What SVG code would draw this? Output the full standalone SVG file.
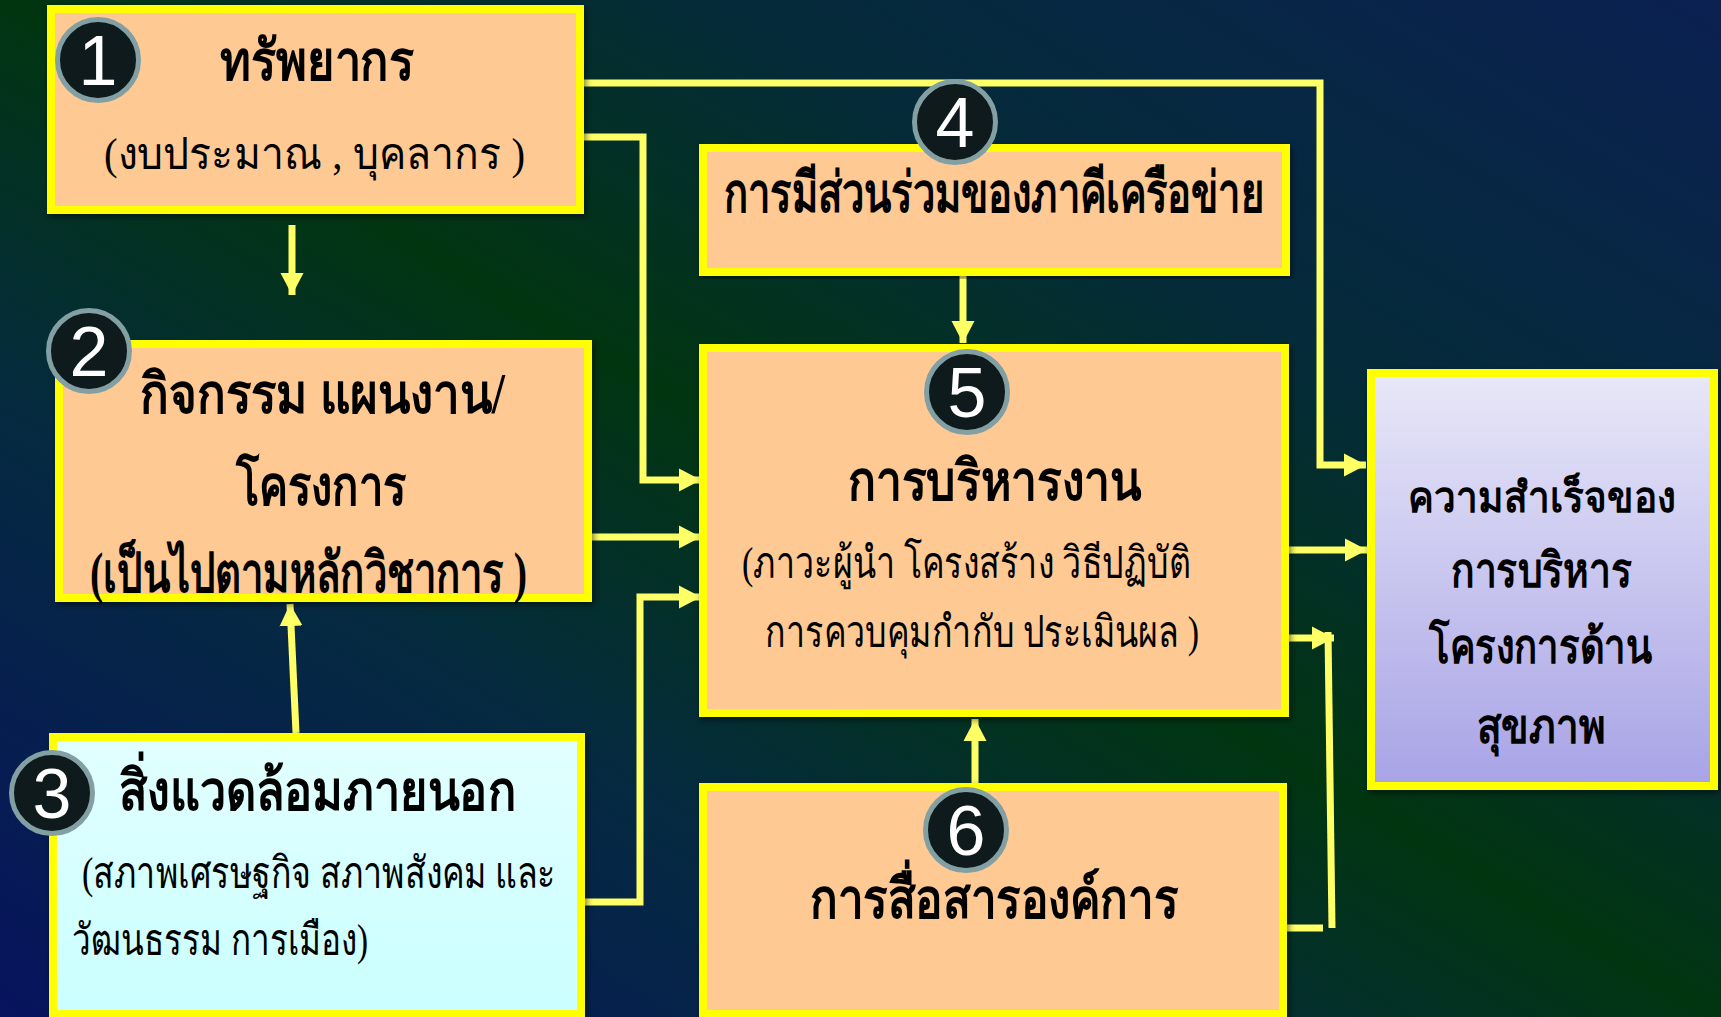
<svg xmlns="http://www.w3.org/2000/svg" width="1721" height="1017" viewBox="0 0 1721 1017">
<defs>
  <linearGradient id="bg" x1="0" y1="1" x2="1" y2="0">
    <stop offset="0" stop-color="#07135e"/>
    <stop offset="0.3" stop-color="#052a40"/>
    <stop offset="0.5" stop-color="#013510"/>
    <stop offset="0.7" stop-color="#042b38"/>
    <stop offset="1" stop-color="#0b2152"/>
  </linearGradient>
  <linearGradient id="cyanFill" x1="0" y1="0" x2="0" y2="1">
    <stop offset="0" stop-color="#e2ffff"/>
    <stop offset="1" stop-color="#caffff"/>
  </linearGradient>
  <linearGradient id="lavFill" x1="0" y1="0" x2="0" y2="1">
    <stop offset="0" stop-color="#e8e8f8"/>
    <stop offset="1" stop-color="#a8a3e6"/>
  </linearGradient>
  <filter id="shadow" x="-5%" y="-5%" width="110%" height="110%">
    <feDropShadow dx="2" dy="3" stdDeviation="3" flood-color="#000" flood-opacity="0.5"/>
  </filter>
  <marker id="arrow" markerUnits="userSpaceOnUse" markerWidth="24" markerHeight="24" refX="22" refY="12" orient="auto">
    <path d="M0,0.5 L22,12 L0,23.5 Z" fill="#ffff66"/>
  </marker>
  <style>
    .box { fill: #ffc994; stroke: #ffff00; stroke-width: 8; filter: url(#shadow); }
    .cyan { fill: url(#cyanFill); }
    .lav { fill: url(#lavFill); }
    .conn { fill: none; stroke: #ffff66; stroke-width: 7; }
    .badge circle { fill: #0e1a1b; stroke: #82a0a4; stroke-width: 5; }
    .badge text { font-family: 'Liberation Sans', Arial, sans-serif; font-size: 70px; fill: #ffffff; text-anchor: middle; }
    .t { font-family: 'Liberation Serif', 'DejaVu Serif', serif; fill: #000; }
    .b { font-weight: bold; font-size: 56px; }
    .b7 { font-weight: bold; font-size: 48px; }
    .b7s { font-weight: bold; font-size: 42px; }
    .r { font-size: 44px; }
  </style>
</defs>

<rect x="0" y="0" width="1721" height="1017" fill="url(#bg)"/>

<g id="connectors">
  <polyline class="conn" points="584,83 1320,83 1320,465 1366,465" marker-end="url(#arrow)"/>
  <polyline class="conn" points="584,137 643,137 643,480 701,480" marker-end="url(#arrow)"/>
  <line class="conn" x1="589" y1="537" x2="701" y2="537" marker-end="url(#arrow)"/>
  <polyline class="conn" points="585,902 640,902 640,597 701,597" marker-end="url(#arrow)"/>
  <line class="conn" x1="292" y1="225" x2="292" y2="295" marker-end="url(#arrow)"/>
  <line class="conn" x1="296" y1="733" x2="290" y2="604" marker-end="url(#arrow)"/>
  <line class="conn" x1="963" y1="274" x2="963" y2="343" marker-end="url(#arrow)"/>
  <line class="conn" x1="975" y1="785" x2="975" y2="719" marker-end="url(#arrow)"/>
  <line class="conn" x1="1289" y1="550" x2="1367" y2="550" marker-end="url(#arrow)"/>
  <line class="conn" x1="1289" y1="638" x2="1334" y2="638" marker-end="url(#arrow)"/>
  <line class="conn" x1="1328" y1="632" x2="1332" y2="928"/>
  <line class="conn" x1="1287" y1="928" x2="1323" y2="928"/>
</g>

<g id="node1">
  <rect class="box" x="51" y="9" width="529" height="201"/>
  <text class="t b" x="220" y="80" textLength="194" lengthAdjust="spacingAndGlyphs">ทรัพยากร</text>
  <text class="t r" x="104" y="169" textLength="421" lengthAdjust="spacingAndGlyphs">(งบประมาณ , บุคลากร )</text>
  <g class="badge"><circle cx="98" cy="60" r="40.5"/><text x="98" y="85">1</text></g>
</g>

<g id="node2">
  <rect class="box" x="59" y="344" width="529" height="254"/>
  <text class="t b" x="140" y="413" textLength="365" lengthAdjust="spacingAndGlyphs">กิจกรรม แผนงาน/</text>
  <text class="t b" x="236" y="505" textLength="170" lengthAdjust="spacingAndGlyphs">โครงการ</text>
  <text class="t b" x="90" y="592" textLength="437" lengthAdjust="spacingAndGlyphs">(เป็นไปตามหลักวิชาการ )</text>
  <g class="badge"><circle cx="89" cy="351" r="40.5"/><text x="89" y="376">2</text></g>
</g>

<g id="node3">
  <rect class="box cyan" x="53" y="737" width="528" height="277"/>
  <text class="t b" x="119" y="810" textLength="397" lengthAdjust="spacingAndGlyphs">สิ่งแวดล้อมภายนอก</text>
  <text class="t r" x="82" y="888" textLength="474" lengthAdjust="spacingAndGlyphs">(สภาพเศรษฐกิจ สภาพสังคม และ</text>
  <text class="t r" x="72" y="955" textLength="296" lengthAdjust="spacingAndGlyphs">วัฒนธรรม การเมือง)</text>
  <g class="badge"><circle cx="52" cy="793" r="40.5"/><text x="52" y="818">3</text></g>
</g>

<g id="node4">
  <rect class="box" x="703" y="148" width="583" height="124"/>
  <text class="t b" x="724" y="212" textLength="540" lengthAdjust="spacingAndGlyphs">การมีส่วนร่วมของภาคีเครือข่าย</text>
  <g class="badge"><circle cx="955" cy="122" r="40.5"/><text x="955" y="147">4</text></g>
</g>

<g id="node5">
  <rect class="box" x="703" y="348" width="582" height="365"/>
  <text class="t b" x="848" y="500" textLength="293" lengthAdjust="spacingAndGlyphs">การบริหารงาน</text>
  <text class="t r" x="742" y="578" textLength="449" lengthAdjust="spacingAndGlyphs">(ภาวะผู้นำ โครงสร้าง วิธีปฏิบัติ</text>
  <text class="t r" x="765" y="647" textLength="434" lengthAdjust="spacingAndGlyphs">การควบคุมกำกับ ประเมินผล )</text>
  <g class="badge"><circle cx="967" cy="392" r="40.5"/><text x="967" y="417">5</text></g>
</g>

<g id="node6">
  <rect class="box" x="703" y="787" width="580" height="227"/>
  <text class="t b" x="810" y="918" textLength="368" lengthAdjust="spacingAndGlyphs">การสื่อสารองค์การ</text>
  <g class="badge"><circle cx="966" cy="830" r="40.5"/><text x="966" y="855">6</text></g>
</g>

<g id="node7">
  <rect class="box lav" x="1371" y="373" width="343" height="413"/>
  <text class="t b7s" x="1408" y="512" textLength="268" lengthAdjust="spacingAndGlyphs">ความสำเร็จของ</text>
  <text class="t b7" x="1451" y="587" textLength="181" lengthAdjust="spacingAndGlyphs">การบริหาร</text>
  <text class="t b7" x="1429" y="663" textLength="223" lengthAdjust="spacingAndGlyphs">โครงการด้าน</text>
  <text class="t b7" x="1477" y="743" textLength="129" lengthAdjust="spacingAndGlyphs">สุขภาพ</text>
</g>
</svg>
